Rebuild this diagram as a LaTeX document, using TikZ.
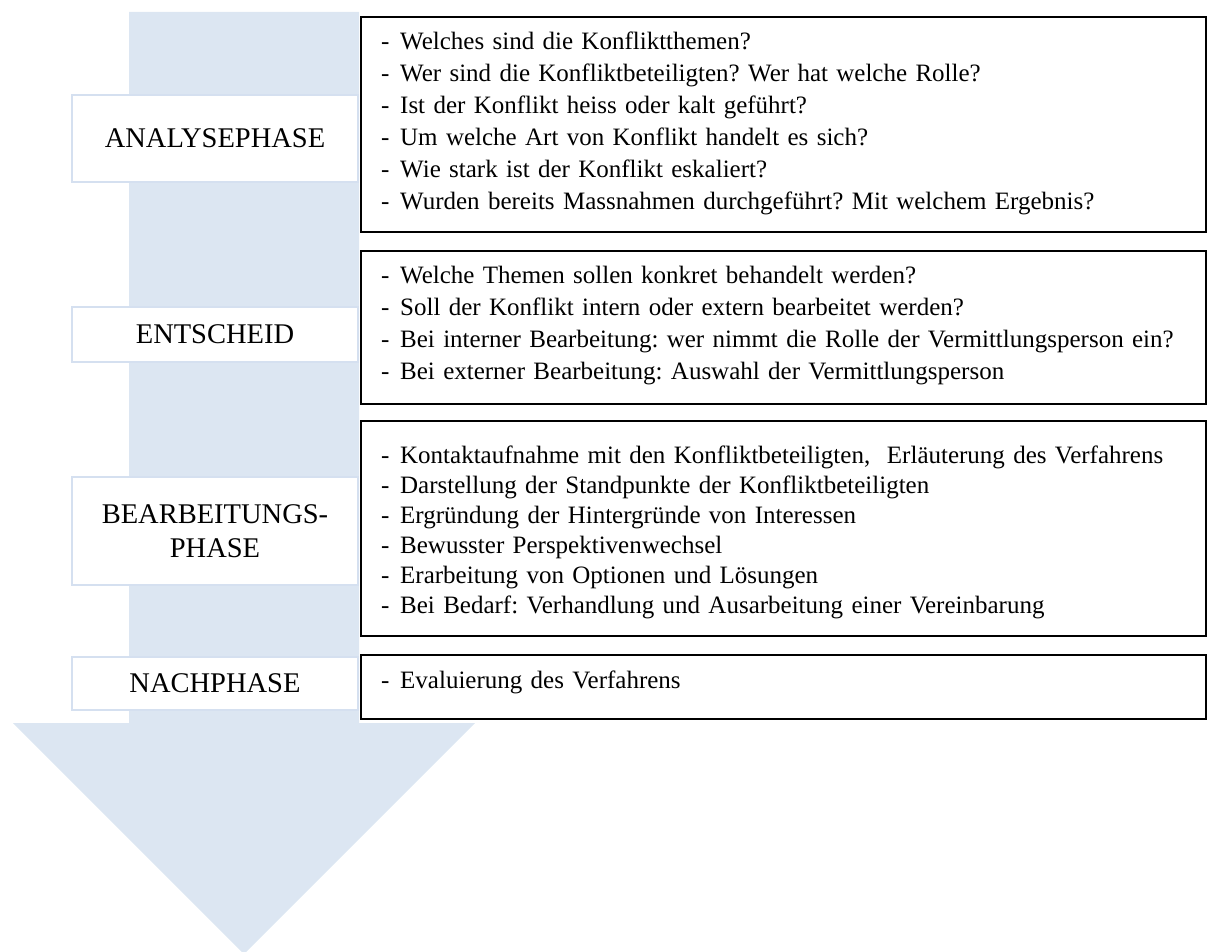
\documentclass[tikz,border=0pt]{standalone}
\usepackage{fontspec}
\setmainfont{Liberation Serif}[Ligatures=NoCommon]
\frenchspacing
\definecolor{arrowblue}{HTML}{DCE6F2}
\definecolor{labelline}{HTML}{D5E0F0}
\newcommand\itm[1]{\makebox[19pt][l]{-}#1\par}
\tikzset{
  labelbox/.style={draw=labelline, line width=1.5pt, fill=white, minimum width=286pt,
    inner sep=0pt, align=center, font=\fontsize{28.5}{34}\selectfont},
  listbox/.style={draw=black, line width=2pt, fill=white},
  listtext/.style={anchor=base west, inner sep=0pt, text width=820pt, align=left},
}
\begin{document}
\begin{tikzpicture}[x=1pt,y=-1pt]
\useasboundingbox (0,0) rectangle (1207,952);
% big arrow
\fill[arrowblue] (129,12) -- (359,12) -- (359,723) -- (475,723) -- (244,954) -- (13,723) -- (129,723) -- cycle;
% label boxes
\node[labelbox, minimum height=87pt] (l1) at (215,138.5) {ANALYSEPHASE};
\node[labelbox, minimum height=55pt] (l2) at (215,334.5) {ENTSCHEID};
\node[labelbox, minimum height=108pt] (l3) at (215,531) {BEARBEITUNGS-\\PHASE};
\node[labelbox, minimum height=53pt] (l4) at (215,683.5) {NACHPHASE};
% list boxes
\draw[listbox] (361,17) rectangle (1206,232);
\draw[listbox] (361,251) rectangle (1206,404);
\draw[listbox] (361,421) rectangle (1206,636);
\draw[listbox] (361,655) rectangle (1206,719);
\node[listtext, font=\fontsize{25}{32}\selectfont] (t1) at (381,50) {%
\itm{Welches sind die Konfliktthemen?}
\itm{Wer sind die Konfliktbeteiligten? Wer hat welche Rolle?}
\itm{Ist der Konflikt heiss oder kalt geführt?}
\itm{Um welche Art von Konflikt handelt es sich?}
\itm{Wie stark ist der Konflikt eskaliert?}
\itm{Wurden bereits Massnahmen durchgeführt? Mit welchem Ergebnis?}};
\node[listtext, font=\fontsize{25}{32}\selectfont] (t2) at (381,283) {%
\itm{Welche Themen sollen konkret behandelt werden?}
\itm{Soll der Konflikt intern oder extern bearbeitet werden?}
\itm{Bei interner Bearbeitung: wer nimmt die Rolle der Vermittlungsperson ein?}
\itm{Bei externer Bearbeitung: Auswahl der Vermittlungsperson}};
\node[listtext, font=\fontsize{25}{30}\selectfont] (t3) at (381,463) {%
\itm{Kontaktaufnahme mit den Konfliktbeteiligten,\ \ Erläuterung des Verfahrens}
\itm{Darstellung der Standpunkte der Konfliktbeteiligten}
\itm{Ergründung der Hintergründe von Interessen}
\itm{Bewusster Perspektivenwechsel}
\itm{Erarbeitung von Optionen und Lösungen}
\itm{Bei Bedarf: Verhandlung und Ausarbeitung einer Vereinbarung}};
\node[listtext, font=\fontsize{25}{30}\selectfont] (t4) at (381,688) {%
\itm{Evaluierung des Verfahrens}};
\end{tikzpicture}
\end{document}
